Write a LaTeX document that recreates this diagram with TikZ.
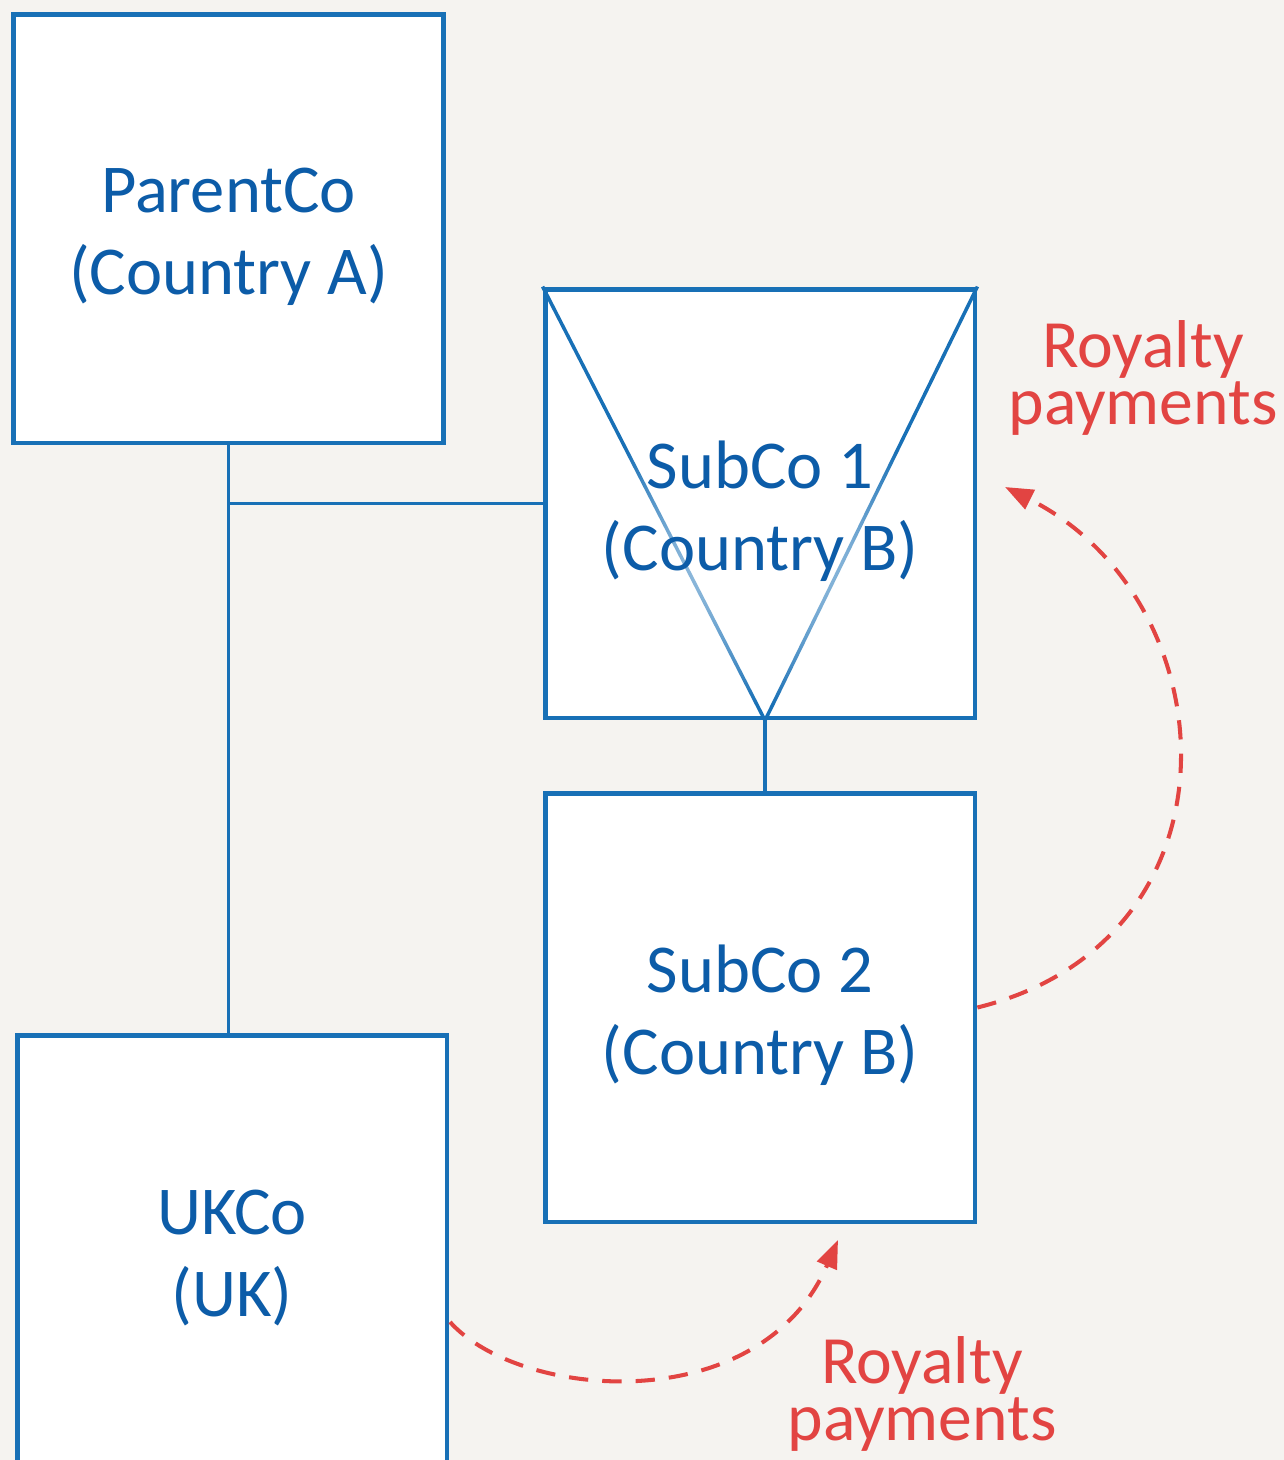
\documentclass[tikz,border=0pt]{standalone}
\usepackage{fontspec}
\setmainfont{Carlito}
\usepackage{tikz}
\usetikzlibrary{positioning, arrows.meta, fadings}
\usepackage{xcolor}
\definecolor{boxblue}{RGB}{24,112,182}
\definecolor{textblue}{RGB}{12,92,168}
\definecolor{payred}{RGB}{226,68,66}
\definecolor{paper}{RGB}{245,243,240}
\tikzfading[name=softspot, inner color=transparent!0, outer color=transparent!100]

\begin{document}
\begin{tikzpicture}[x=0.02cm, y=-0.02cm,
    entity/.style={draw=boxblue, line width=2.8pt, fill=white, minimum width=8.6cm, minimum height=8.58cm, inner sep=0pt},
    coname/.style={align=center, text=textblue, font=\fontsize{39}{46.5}\selectfont, yshift=-0.16cm},
    link/.style={draw=boxblue, line width=2.2pt},
    pay/.style={draw=payred, line width=2.3pt, dash pattern=on 11pt off 8pt, -{Triangle[length=16pt, width=12pt]}},
    paylabel/.style={text=payred, align=center, font=\fontsize{38.5}{32.5}\selectfont}]
\path[use as bounding box, clip] (0,0) rectangle (1284,1460);
\fill[paper] (0,0) rectangle (1284,1460);

% Companies
\node[entity] (parent) at (228.5,228.5) {};
\node[entity] (sub1) at (760,503.5) {};
\node[entity] (sub2) at (760,1007.5) {};
\node[entity] (uk) at (232,1250) {};

% Triangle inside SubCo 1, paler behind its text
\draw[link, line width=2pt] (sub1.north west) -- ([xshift=0.1cm]sub1.south) -- (sub1.north east);
\fill[white, fill opacity=0.8, path fading=softspot] (760,555) ellipse (190 and 150);

% Names
\node[coname] (parenttxt) at (parent) {ParentCo\\(Country A)};
\node[coname] (sub1txt) at (sub1) {SubCo 1\\(Country B)};
\node[coname] (sub2txt) at (sub2) {SubCo 2\\(Country B)};
\node[coname] (uktxt) at (uk) {UKCo\\(UK)};

% Ownership lines
\coordinate (join) at (parent.south |- sub1.west);
\draw[link] (parent.south) -- (parent.south |- uk.north);
\draw[link] (join) -- (sub1.west);
\draw[link] ([xshift=0.1cm]sub1.south) -- ([xshift=0.1cm]sub2.north);

% Royalty flows
\coordinate (topend) at (1005,487);
\coordinate (ukout) at (450,1322);
\coordinate (lowend) at (838,1240);
\draw[pay] (sub2.east) .. controls (1250,940) and (1230,600) .. (topend);
\draw[pay] (ukout) .. controls (520,1400) and (760,1420) .. (lowend);
\node[paylabel] (royal1) at (1143,378) {Royalty\\payments};
\node[paylabel] (royal2) at (922,1394) {Royalty\\payments};
\end{tikzpicture}
\end{document}
